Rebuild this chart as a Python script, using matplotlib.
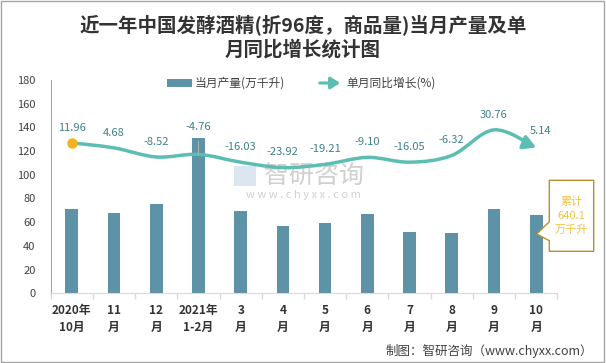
import matplotlib.pyplot as plt
from matplotlib.patches import Rectangle, Polygon, FancyArrowPatch
from matplotlib.path import Path
import numpy as np

plt.rcParams['font.family'] = ['Noto Sans CJK SC', 'DejaVu Sans']

months = ['2020年\n10月', '11\n月', '12\n月', '2021年\n1-2月', '3\n月', '4\n月',
          '5\n月', '6\n月', '7\n月', '8\n月', '9\n月', '10\n月']
output = [71.1, 67.8, 75.4, 131.3, 69.5, 56.8, 59.3, 66.9, 51.7, 50.9, 71.1, 66.1]
growth = [11.96, 4.68, -8.52, -4.76, -16.03, -23.92, -19.21, -9.10, -16.05, -6.32, 30.76, 5.14]
total_label = '累计\n640.1\n万千升'

W, H = 606, 363
bar_c = '#5D92A7'
line_c = '#5CBDB3'
lab_c = '#40808C'


def fx(x):
    return x / W


def fy(y):
    return 1 - y / H


fig = plt.figure(figsize=(6.06, 3.63), dpi=100)
ax = fig.add_axes([fx(50.7), fy(293.3), fx(557.3 - 50.7), (293.3 - 80) / H])
ax2 = ax.twinx()

x = np.arange(len(months))
ax.bar(x, output, width=0.3, color=bar_c, zorder=2)
ax.set_xlim(-0.5, len(months) - 0.5)
ax.set_ylim(0, 180)
ax.set_yticks(range(0, 181, 20))
ax.tick_params(axis='y', length=0, pad=11, labelsize=8, labelcolor='#404040')
ax.set_xticks(np.arange(-0.5, len(months)), minor=False)
ax.set_xticklabels([])
ax.tick_params(axis='x', which='major', length=4, color='#D9D9D9', width=1)
ax.set_xticks(x, minor=True)
ax.set_xticklabels(months, minor=True, fontsize=8.5, fontweight='bold', color='#333333',
                   linespacing=1.4)
ax.tick_params(axis='x', which='minor', length=0, pad=8)
for s in ['top', 'right']:
    ax.spines[s].set_visible(False)
ax.spines['left'].set_color('#A6A6A6')
ax.spines['bottom'].set_color('#D9D9D9')

# watermark
ax.text(fx(264), fy(176), '智研咨询', transform=fig.transFigure, fontsize=18, color='#D0D0D0',
        ha='left', va='center', zorder=0.5)
ax.text(fx(303), fy(195), 'w w w . c h y x x . c o m', transform=fig.transFigure, fontsize=8,
        color='#D0D0D0', ha='center', va='center', zorder=0.5)
ax.add_patch(Rectangle((fx(234), fy(186)), fx(22), 20 / H, transform=fig.transFigure,
                       facecolor='#DCE6F0', edgecolor='none', zorder=0.5))

# smoothed growth line on hidden secondary axis
ax2.set_ylim(-206, 103)
ax2.axis('off')
pts = np.column_stack([x, growth]).astype(float)
verts = [tuple(pts[0])]
codes = [Path.MOVETO]
n = len(pts)
for i in range(n - 1):
    p0 = pts[max(i - 1, 0)]
    p1 = pts[i]
    p2 = pts[i + 1]
    p3 = pts[min(i + 2, n - 1)]
    c1 = p1 + (p2 - p0) / 6
    c2 = p2 - (p3 - p1) / 6
    verts += [tuple(c1), tuple(c2), tuple(p2)]
    codes += [Path.CURVE4] * 3
arrow = FancyArrowPatch(path=Path(verts, codes), arrowstyle='-|>,head_length=0.5,head_width=0.28',
                        mutation_scale=15, color=line_c, lw=2.5, transform=ax2.transData,
                        zorder=3, shrinkA=0, shrinkB=0)
ax2.add_patch(arrow)
ax2.plot(x[0], growth[0], 'o', color='#F5B21F', markersize=6.5, zorder=4)

for i, v in enumerate(growth):
    if i == 3:
        ax2.annotate(f'{v:.2f}', (i, v), xytext=(0, 20), textcoords='offset points',
                     ha='center', va='center', fontsize=8, color=lab_c,
                     arrowprops=dict(arrowstyle='-', color='#B0B0B0', lw=0.8,
                                     shrinkA=5, shrinkB=0))
    elif i == len(growth) - 1:
        ax2.annotate(f'{v:.2f}', (i, v), xytext=(3, 12), textcoords='offset points',
                     ha='center', va='center', fontsize=8, color=lab_c)
    else:
        ax2.annotate(f'{v:.2f}', (i, v), xytext=(0, 11), textcoords='offset points',
                     ha='center', va='center', fontsize=8, color=lab_c)

# title
fig.text(0.5, fy(25), '近一年中国发酵酒精(折96度，商品量)当月产量及单', ha='center', va='center',
         fontsize=14, fontweight='bold', color='#333333')
fig.text(0.5, fy(50), '月同比增长统计图', ha='center', va='center',
         fontsize=14, fontweight='bold', color='#333333')

# legend
fig.patches.append(Rectangle((fx(166.7), fy(87.3)), fx(25), 8.3 / H, transform=fig.transFigure,
                             facecolor=bar_c, edgecolor='none'))
fig.text(fx(195), fy(83), '当月产量(万千升)', ha='left', va='center', fontsize=8.5, color='#404040')
fig.patches.append(FancyArrowPatch((fx(317), fy(83)), (fx(343), fy(83)), transform=fig.transFigure,
                                   arrowstyle='-|>,head_length=0.4,head_width=0.25',
                                   mutation_scale=14, color=line_c, lw=2.2))
fig.text(fx(346), fy(83), '单月同比增长(%)', ha='left', va='center', fontsize=8.5, color='#404040')

# callout box
box = [(549.3, 180.3), (593.7, 180.3), (593.7, 251.3), (549.3, 251.3), (549.3, 240.7),
       (536.7, 234), (549.3, 221.7)]
fig.patches.append(Polygon([(fx(a), fy(b)) for a, b in box], closed=True, transform=fig.transFigure,
                           facecolor='white', edgecolor='#B8902F', lw=1, zorder=5))
fig.text(fx(571.5), fy(216), total_label, ha='center', va='center', fontsize=8,
         color='#F5C242', linespacing=1.45, zorder=6)

# footer
fig.text(fx(593), fy(351), '制图：智研咨询（www.chyxx.com）', ha='right', va='center',
         fontsize=9, color='#404040')

fig.patches.append(Rectangle((0.5 / W, 1.5 / H), (W - 2.5) / W, (H - 2) / H, transform=fig.transFigure,
                             fill=False, edgecolor='#A6A6A6', lw=1))

fig.savefig('out.png', dpi=100)
